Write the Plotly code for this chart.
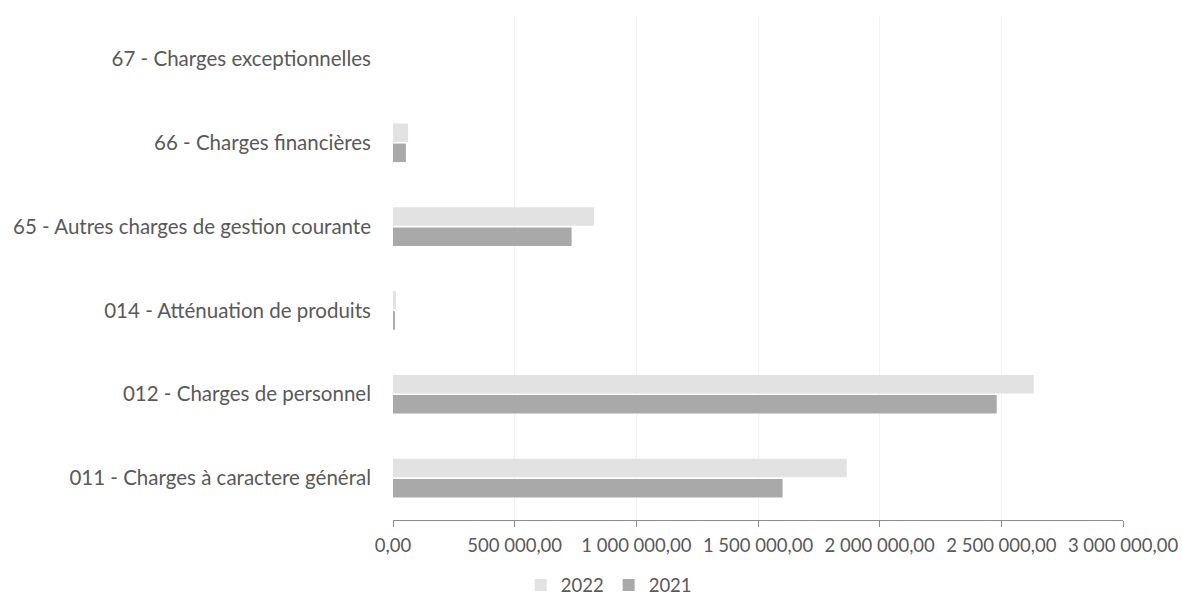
import plotly.graph_objects as go

categories = [
    "011 - Charges à caractere général",
    "012 - Charges de personnel",
    "014 - Atténuation de produits",
    "65 - Autres charges de gestion courante",
    "66 - Charges financières",
    "67 - Charges exceptionnelles",
]
values_2022 = [1865000, 2633000, 12000, 826000, 62000, 0]
values_2021 = [1601000, 2481000, 6000, 734000, 53000, 0]
x_ticks = [0, 500000, 1000000, 1500000, 2000000, 2500000, 3000000]

font_family = "Lato, 'Liberation Sans', sans-serif"
text_color = "#595959"

fig = go.Figure()
fig.add_trace(go.Bar(
    y=categories, x=values_2021, name="2021", orientation="h",
    marker=dict(color="#a9a9a9", line=dict(width=0)),
))
fig.add_trace(go.Bar(
    y=categories, x=values_2022, name="2022", orientation="h",
    marker=dict(color="#e2e2e2", line=dict(width=0)),
))

fig.update_layout(
    width=1182, height=598,
    margin=dict(l=393, r=59, t=17, b=78),
    paper_bgcolor="white", plot_bgcolor="white",
    barmode="group", bargap=0.52, bargroupgap=0.08,
    separators=", ",
    font=dict(family=font_family, size=20, color=text_color),
    legend=dict(
        orientation="h", traceorder="reversed",
        x=0.515, xref="container", xanchor="center",
        y=0.021, yref="container", yanchor="middle",
        font=dict(size=18.5, color=text_color),
        itemwidth=30,
    ),
    showlegend=True,
)
fig.update_xaxes(
    range=[0, 3000000], tickvals=x_ticks, tickformat=",.2f",
    showgrid=True, gridcolor="#f2f2f2", gridwidth=1,
    zeroline=False, automargin=False,
    showline=True, linecolor="#8c8c8c", linewidth=1,
    ticks="outside", ticklen=6, tickcolor="#8c8c8c",
    tickfont=dict(size=18.5, color=text_color),
    ticklabelstandoff=3,
)
fig.update_yaxes(
    type="category", showgrid=False, zeroline=False, showline=False,
    automargin=False,
    ticks="", ticklabelstandoff=21,
    tickfont=dict(size=20.5, color=text_color),
)

fig.write_html("out.html")
